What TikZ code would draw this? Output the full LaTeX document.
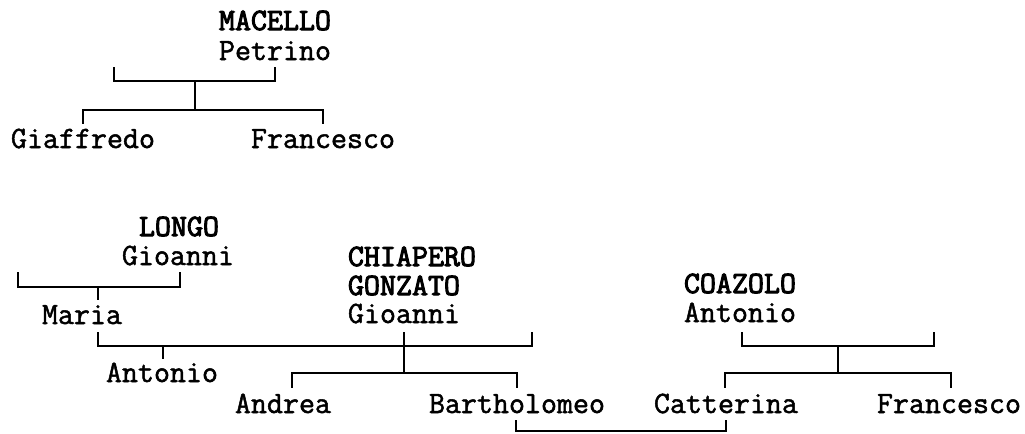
\documentclass[tikz,border=0pt]{standalone}
\usepackage{fontspec}
\newfontfamily\namefont{Latin Modern Mono}[FakeBold=1.6]
\newfontfamily\surnamefont{Latin Modern Mono}[FakeBold=3.2]
\begin{document}
\begin{tikzpicture}[x=0.75pt,y=-0.75pt,
  person/.style={anchor=base west,inner sep=0pt,outer sep=0pt,font=\fontsize{23.3}{27}\selectfont\namefont},
  surname/.style={person,font=\fontsize{23.3}{27}\selectfont\surnamefont},
  link/.style={line width=1.4pt,line cap=rect}]
\useasboundingbox (0,0) rectangle (1025,433);
% ---- top family ----
\node[surname] (macS) at (219,30) {MACELLO};
\node[person] (macN) at (219,60) {Petrino};
\node[person] (giaf) at (11,148) {Giaffredo};
\node[person] (fran1) at (251,148) {Francesco};
\coordinate (t1) at (114,68); \coordinate (t2) at (114,81);
\coordinate (t3) at (275,81); \coordinate (t4) at (275,68);
\coordinate (t5) at (195,81); \coordinate (t6) at (195,110);
\coordinate (t7) at (83,123); \coordinate (t8) at (83,110);
\coordinate (t9) at (323,110); \coordinate (t10) at (323,123);
\draw[link] (t1) -- (t2) -- (t3) -- (t4);
\draw[link] (t5) -- (t6);
\draw[link] (t7) -- (t8) -- (t9) -- (t10);
% ---- LONGO ----
\node[surname] (lonS) at (139,236) {LONGO};
\node[person] (lonN) at (122,265) {Gioanni};
\node[person] (maria) at (42,324) {Maria};
\node[person] (anto1) at (106,382) {Antonio};
\coordinate (l1) at (18,273); \coordinate (l2) at (18,287);
\coordinate (l3) at (180,287); \coordinate (l4) at (180,273);
\coordinate (l5) at (98,287); \coordinate (l6) at (98,299);
\draw[link] (l1) -- (l2) -- (l3) -- (l4);
\draw[link] (l5) -- (l6);
% ---- CHIAPERO ----
\node[surname] (chiS) at (348,266) {CHIAPERO};
\node[surname] (chiS2) at (348,295) {GONZATO};
\node[person] (chiN) at (348,323) {Gioanni};
\node[person] (andrea) at (235,413) {Andrea};
\node[person] (barth) at (429,413) {Bartholomeo};
\coordinate (m1) at (98,333); \coordinate (m2) at (98,346);
\coordinate (m3) at (532,346); \coordinate (m4) at (532,333);
\coordinate (m5) at (163,346); \coordinate (m6) at (163,358);
\coordinate (m7) at (404,333); \coordinate (m8) at (404,373);
\coordinate (c1) at (292,387); \coordinate (c2) at (292,373);
\coordinate (c3) at (517,373); \coordinate (c4) at (517,387);
\draw[link] (m1) -- (m2) -- (m3) -- (m4);
\draw[link] (m5) -- (m6);
\draw[link] (m7) -- (m8);
\draw[link] (c1) -- (c2) -- (c3) -- (c4);
% ---- COAZOLO ----
\node[surname] (coaS) at (684,293) {COAZOLO};
\node[person] (coaN) at (684,322) {Antonio};
\node[person] (catt) at (654,413) {Catterina};
\node[person] (fran2) at (877,413) {Francesco};
\coordinate (k1) at (742,333); \coordinate (k2) at (742,346);
\coordinate (k3) at (934,346); \coordinate (k4) at (934,333);
\coordinate (k5) at (838,346); \coordinate (k6) at (838,373);
\coordinate (k7) at (725,387); \coordinate (k8) at (725,373);
\coordinate (k9) at (951,373); \coordinate (k10) at (951,387);
\draw[link] (k1) -- (k2) -- (k3) -- (k4);
\draw[link] (k5) -- (k6);
\draw[link] (k7) -- (k8) -- (k9) -- (k10);
% ---- marriage ----
\coordinate (w1) at (516,421); \coordinate (w2) at (516,431);
\coordinate (w3) at (726,431); \coordinate (w4) at (726,421);
\draw[link] (w1) -- (w2) -- (w3) -- (w4);
\end{tikzpicture}
\end{document}
